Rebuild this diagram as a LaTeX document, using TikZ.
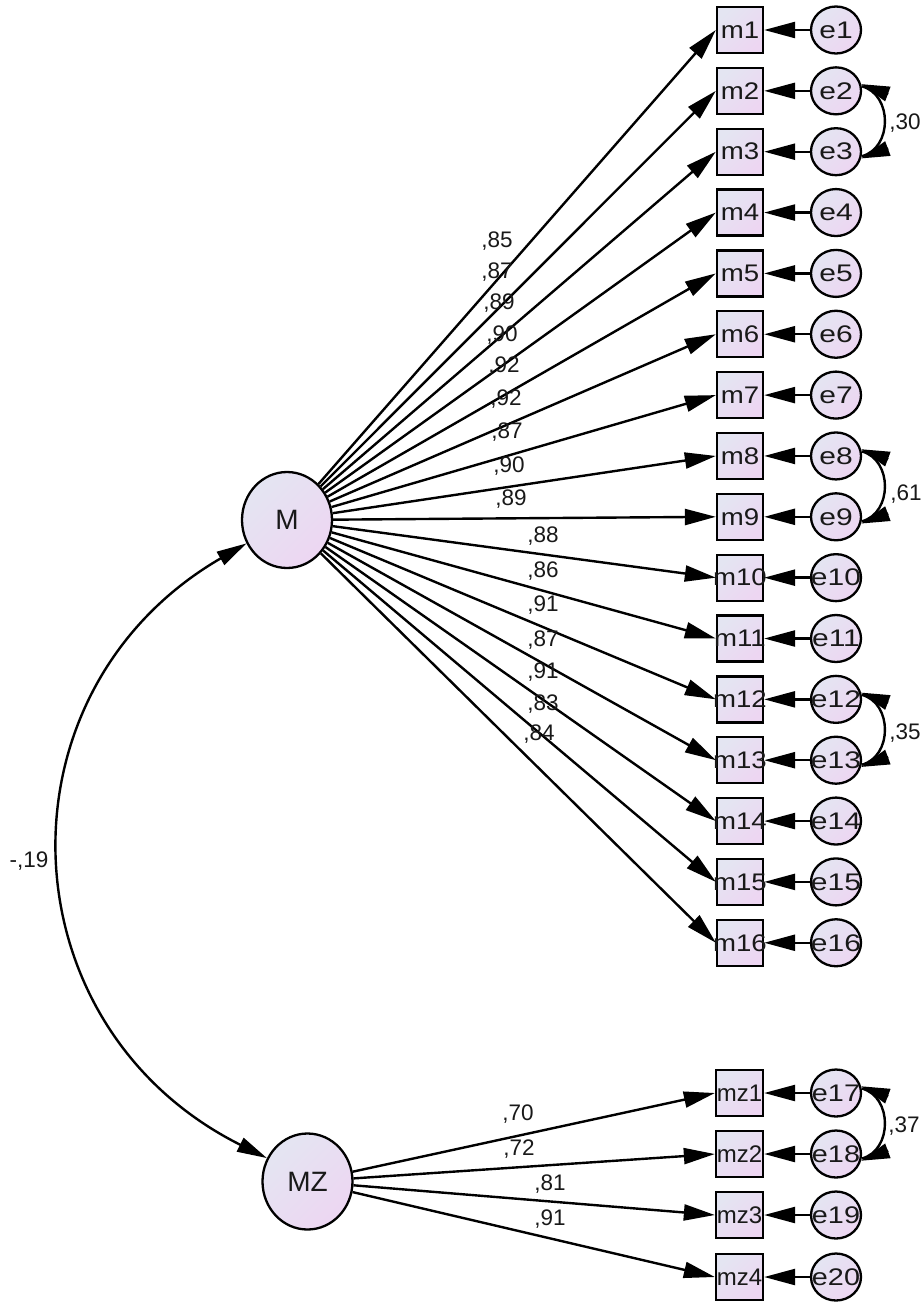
\documentclass[tikz,border=0pt]{standalone}
\usepackage{fontspec}
\usepackage{graphicx}
\setmainfont{Liberation Sans}
\usetikzlibrary{arrows.meta,shapes.geometric}
\definecolor{gA}{RGB}{228,229,242}
\definecolor{gB}{RGB}{237,214,242}
\definecolor{txt}{RGB}{25,25,25}
\tikzset{
  grad/.style={top color=gA, bottom color=gB, shading angle=45},
  latent/.style={ellipse, draw, line width=2.3pt, grad, minimum width=90pt, minimum height=96pt, inner sep=0pt, font=\fontsize{28}{30}\selectfont, text=txt},
  obsbox/.style={rectangle, draw, line width=2.3pt, grad, minimum width=46pt, minimum height=46pt, inner sep=0pt, font=\fontsize{24}{26}\selectfont, text=txt},
  errc/.style={ellipse, draw, line width=2.3pt, grad, minimum width=50pt, minimum height=47pt, inner sep=0pt, font=\fontsize{24}{26}\selectfont, text=txt},
  pth/.style={line width=2.4pt, -{Triangle[length=31pt,width=16pt]}},
  cov/.style={line width=2.4pt, {Triangle[length=30pt,width=15pt]}-{Triangle[length=30pt,width=15pt]}},
  covline/.style={line width=2.4pt},
  covtip/.style={line width=2.4pt, -{Triangle[length=28.5pt,width=15pt]}},
  coef/.style={inner sep=0pt, font=\fontsize{22.5}{24}\selectfont, text=txt}
}
\begin{document}
\begin{tikzpicture}[x=1pt,y=-1pt]
\useasboundingbox (0,0) rectangle (922,1304);
\fill[white] (0,0) rectangle (922,1304);
% latent variables
\node[latent] (M) at (287,520) {M};
\node[latent] (MZ) at (307.5,1181.5) {MZ};
% M indicators
\foreach \i in {1,...,16} {
  \pgfmathsetmacro\yy{30+(\i-1)*60.85}
  \node[obsbox] (m\i) at (740,\yy) {\makebox[0pt]{\scalebox{1.15}[1]{m\i}}};
  \node[errc] (e\i) at (836,\yy) {\makebox[0pt]{\scalebox{1.25}[1]{e\i}}};
  \draw[pth] (e\i) -- (m\i);
  \draw[pth] (M) -- (m\i.west);
}
% MZ indicators
\foreach \i/\yy/\e in {1/1093/17,2/1154/18,3/1215/19,4/1277/20} {
  \node[obsbox, minimum width=47pt] (mz\i) at (739.5,\yy) {\makebox[0pt]{\scalebox{1.0}[1]{mz\i}}};
  \node[errc] (e\e) at (836,\yy) {\makebox[0pt]{\scalebox{1.2}[1]{e\e}}};
  \draw[pth] (e\e) -- (mz\i);
  \draw[pth] (MZ) -- (mz\i.west);
}
% loadings
\foreach \x/\y/\t [count=\k] in {497/241/{,85}, 497/272/{,87}, 499/303/{,89}, 502/335/{,90}, 504/366/{,92}, 506/399/{,92}, 507/432/{,87}, 509/466/{,90}, 511/499/{,89}, 543/536/{,88}, 543/571/{,86}, 543/605/{,91}, 543/640/{,87}, 543/672/{,91}, 543/704/{,83}, 539/734/{,84}} {
  \node[coef] (lm\k) at (\x,\y) {\t};
}
\foreach \x/\y/\t [count=\k] in {518/1114/{,70}, 519/1149/{,72}, 550/1184/{,81}, 550/1219/{,91}} {
  \node[coef] (lz\k) at (\x,\y) {\t};
}
% covariances between errors
\foreach \a/\b in {2/3, 8/9, 12/13, 17/18} {
  \draw[covline] (e\a.10) .. controls +(31,8) and +(31,-8) .. (e\b.-10);
  \draw[covtip] ([shift={(27,10)}]e\a.15) -- (e\a.15);
  \draw[covtip] ([shift={(27,-10)}]e\b.-15) -- (e\b.-15);
}
\node[coef] (c1) at (905,123) {,30};
\node[coef] (c2) at (906,494) {,61};
\node[coef] (c3) at (905,733) {,35};
\node[coef] (c4) at (904,1126) {,37};
% covariance between latents
\draw[cov] (M.210) .. controls +(-255,148) and +(-264,-132) .. (MZ.150);
\node[coef] (c5) at (29,861) {-,19};
\end{tikzpicture}
\end{document}
